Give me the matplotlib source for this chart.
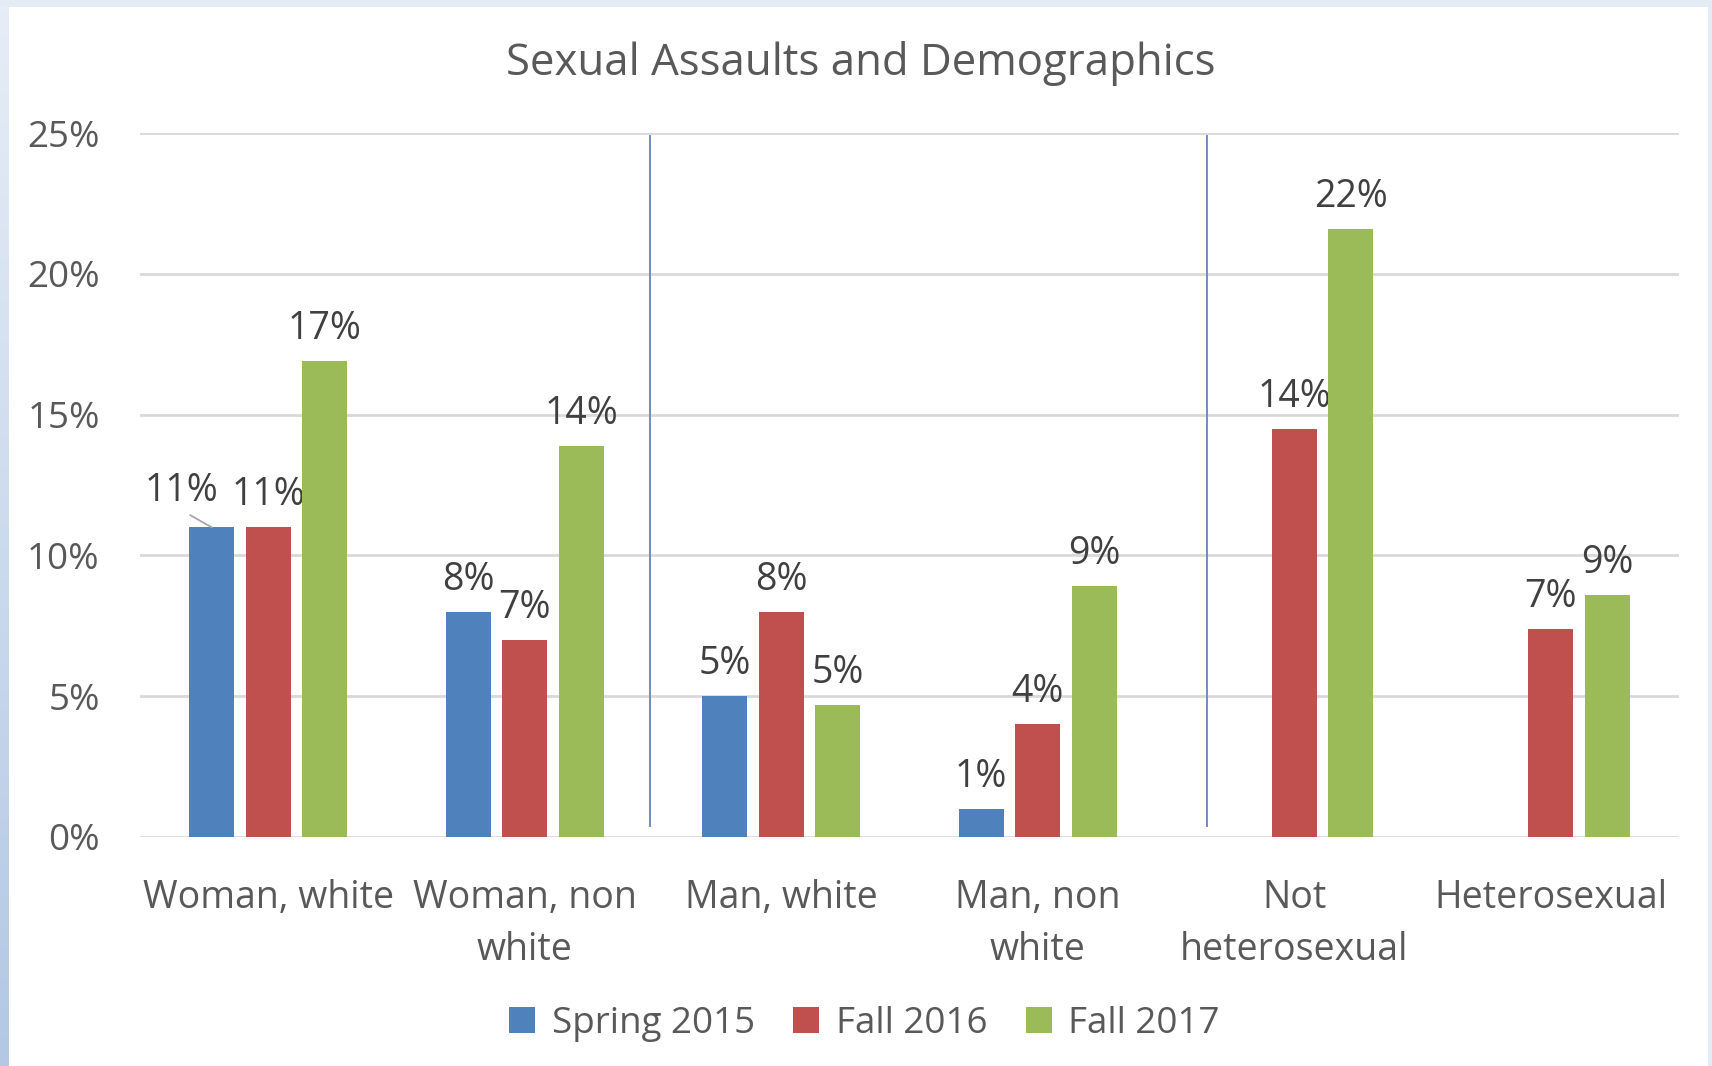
import matplotlib.pyplot as plt
import numpy as np
from matplotlib.colors import LinearSegmentedColormap
from matplotlib.patches import Rectangle

plt.rcParams['font.family'] = ['Open Sans', 'DejaVu Sans']

categories = ['Woman, white', 'Woman, non\nwhite', 'Man, white',
              'Man, non\nwhite', 'Not\nheterosexual', 'Heterosexual']
series_names = ['Spring 2015', 'Fall 2016', 'Fall 2017']
spring_2015 = [11.0, 8.0, 5.0, 1.0, np.nan, np.nan]
fall_2016 = [11.0, 7.0, 8.0, 4.0, 14.5, 7.4]
fall_2017 = [16.9, 13.9, 4.7, 8.9, 21.6, 8.6]
colors = ['#4F81BD', '#C0504D', '#9BBB59']
separators = [1.49, 3.66]

text_color = '#595959'

fig = plt.figure(figsize=(17.12, 10.66), dpi=100)
fig.patch.set_facecolor('#E3EBF5')

# white slide area and blue gradient strip on the left
fig.patches.append(Rectangle((9 / 1712, 0), 1699 / 1712, 1059 / 1066,
                             transform=fig.transFigure, facecolor='white',
                             edgecolor='none', zorder=-5))
strip = fig.add_axes([0, 0, 9 / 1712, 1059 / 1066])
grad = np.linspace(0, 1, 256).reshape(-1, 1)
cmap = LinearSegmentedColormap.from_list('strip', ['#B3C8E4', '#E6EDF7'])
strip.imshow(grad, aspect='auto', cmap=cmap, origin='lower')
strip.axis('off')

ax = fig.add_axes([140 / 1712, 229 / 1066, 1539 / 1712, 704 / 1066])
ax.set_facecolor('none')
ax.set_zorder(2)

x = np.arange(len(categories))
step = 0.221
width = 0.175
all_series = [spring_2015, fall_2016, fall_2017]
for i, (vals, name, c) in enumerate(zip(all_series, series_names, colors)):
    pos = x + (i - 1) * step
    ax.bar(pos, vals, width=width, color=c, label=name, zorder=3)
    for j, (p, v) in enumerate(zip(pos, vals)):
        if np.isnan(v):
            continue
        if i == 0 and j == 0:
            # label moved aside, with a leader line
            ax.annotate(f'{v:.0f}%', xy=(p, v), xytext=(-30, 36),
                        textcoords='offset pixels', ha='center', va='center',
                        fontsize=27, color='#404040',
                        arrowprops=dict(arrowstyle='-', color='#A6A6A6',
                                        lw=1.3, relpos=(0.5, 0),
                                        shrinkA=3, shrinkB=0))
            continue
        ax.annotate(f'{v:.0f}%', xy=(p, v), xytext=(0, 32),
                    textcoords='offset pixels', ha='center', va='center',
                    fontsize=27, color='#404040')

for s in separators:
    ax.plot([s, s], [0.4, 24.9], color='#6E8FC0', lw=1.4, zorder=2)

ax.set_xlim(-0.5, len(categories) - 0.5)
ax.set_ylim(0, 25)
ax.set_yticks([0, 5, 10, 15, 20, 25])
ax.set_yticklabels([f'{t}%' for t in [0, 5, 10, 15, 20, 25]])
ax.set_xticks(x)
ax.set_xticklabels(categories, linespacing=1.5)
ax.tick_params(axis='both', length=0, labelcolor=text_color)
ax.tick_params(axis='x', pad=30, labelsize=27)
ax.tick_params(axis='y', pad=29, labelsize=26.5)
ax.grid(axis='y', color='#D9D9D9', lw=2, zorder=0)
for sp in ax.spines.values():
    sp.set_visible(False)

fig.text(0.503, 1 - 63 / 1066, 'Sexual Assaults and Demographics',
         ha='center', va='center', fontsize=31.5, color=text_color)

fig.legend(loc='center', bbox_to_anchor=(0.505, 42 / 1066), ncol=3,
           frameon=False, fontsize=26.5, labelcolor=text_color,
           handlelength=0.7, handleheight=0.7, handletextpad=0.45,
           columnspacing=1.05)

fig.savefig('out.png', dpi=100, facecolor=fig.get_facecolor())
